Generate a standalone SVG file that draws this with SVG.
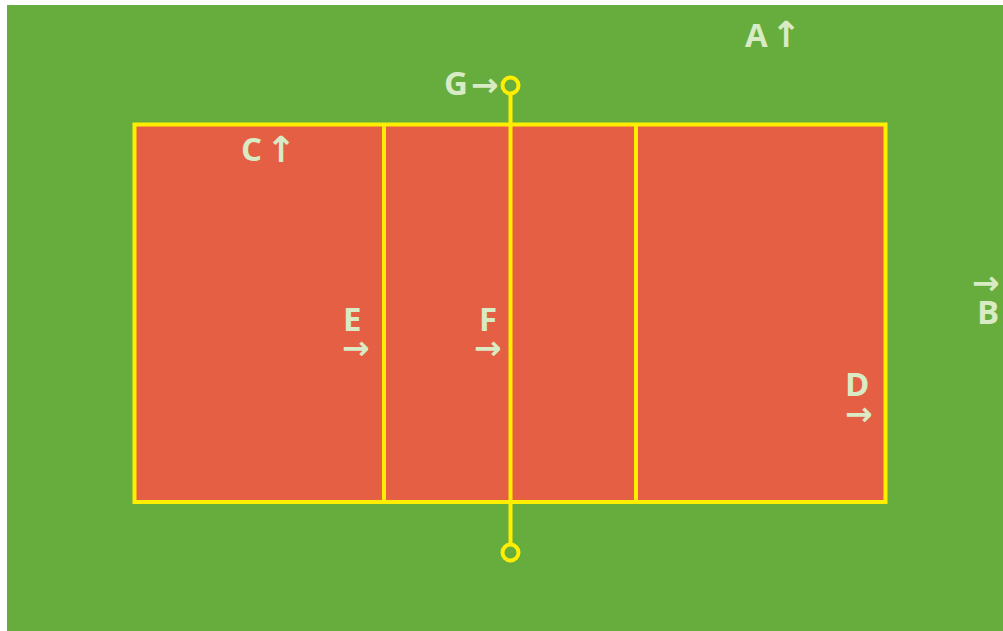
<svg xmlns="http://www.w3.org/2000/svg" width="1003" height="631" viewBox="0 0 1003 631">
<style>
.lbl{font-family:"Open Sans","DejaVu Sans",sans-serif;font-weight:700;font-size:33px;fill:#d8ebc4}
.arr{font-family:"DejaVu Sans",sans-serif;font-weight:700;font-size:33px}
.up{font-family:"DejaVu Sans",sans-serif;font-weight:700;font-size:36px}
.line{stroke:#ffee00;stroke-width:4;fill:none}
</style>
<rect x="0" y="0" width="1003" height="631" fill="#ffffff"/>
<rect id="field" x="7" y="5" width="996" height="626" fill="#66ad3e"/>
<g id="court">
<rect x="134.5" y="124.5" width="751" height="377.5" fill="#e55f44"/>
<rect class="line" x="134.5" y="124.5" width="751" height="377.5"/>
</g>
<g id="connectors">
<line class="line" x1="384" y1="124.5" x2="384" y2="502"/>
<line class="line" x1="636" y1="124.5" x2="636" y2="502"/>
<line class="line" x1="510.5" y1="93" x2="510.5" y2="544"/>
<circle class="line" cx="510.5" cy="85.5" r="8" stroke-width="3"/>
<circle class="line" cx="510.5" cy="552.5" r="8" stroke-width="3"/>
</g>
<g id="A"><text class="lbl"><tspan x="745" y="47">A</tspan><tspan class="up" x="771" y="47">↑</tspan></text></g>
<g id="B"><text class="lbl"><tspan class="arr" x="972" y="294">→</tspan><tspan x="977" y="324">B</tspan></text></g>
<g id="C"><text class="lbl"><tspan x="241" y="161">C</tspan><tspan class="up" x="266" y="162">↑</tspan></text></g>
<g id="D"><text class="lbl"><tspan x="845" y="396">D</tspan><tspan class="arr" x="845" y="425">→</tspan></text></g>
<g id="E"><text class="lbl"><tspan x="343" y="331">E</tspan><tspan class="arr" x="342" y="359">→</tspan></text></g>
<g id="F"><text class="lbl"><tspan x="479" y="331">F</tspan><tspan class="arr" x="474" y="359">→</tspan></text></g>
<g id="G"><text class="lbl"><tspan x="444" y="95">G</tspan><tspan class="arr" x="471" y="96">→</tspan></text></g>
</svg>
